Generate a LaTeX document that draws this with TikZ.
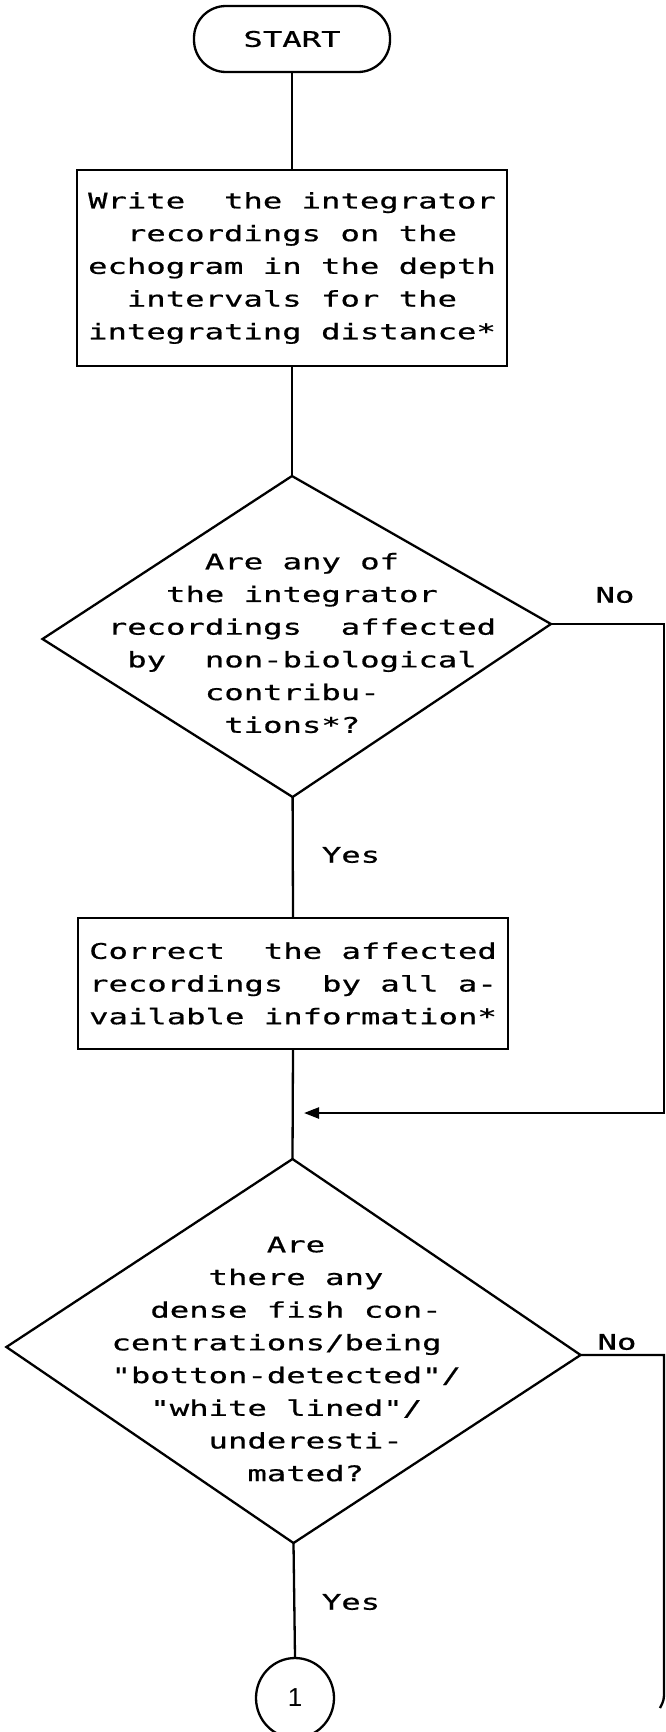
\documentclass[tikz,border=0pt]{standalone}
\usepackage{fontspec}
\newfontfamily\plotfont[FakeStretch=1.5,FakeBold=0.6,Ligatures=TeXOff]{DejaVu Sans Mono}
\newfontfamily\numfont{Liberation Sans}
\usetikzlibrary{arrows.meta,shapes.geometric}
\begin{document}
\begin{tikzpicture}[x=1pt,y=-1pt,
  txt/.style={font=\plotfont\fontsize{21.5}{32.7}\selectfont, align=center, inner sep=0pt},
  ln/.style={line width=2.3pt, line join=miter},
  termbox/.style={txt, draw, line width=2.3pt, rounded corners=32pt, minimum width=196pt, minimum height=66pt},
  procbox/.style={txt, draw, line width=2.3pt, minimum width=430pt},
  lbl/.style={txt},
  conn/.style={draw, line width=2.3pt, ellipse, minimum width=78pt, minimum height=80pt, inner sep=0pt, font=\numfont\fontsize{26}{28}\selectfont}
]
\useasboundingbox[fill=white] (0,0) rectangle (666,1732);

% START
\node[termbox] (start) at (292,39) {START};

% process box 1
\node[procbox, minimum height=196pt] (box1) at (292,268)
  {Write~ the integrator\\recordings on the\\echogram in the depth\\intervals for the\\integrating distance*};

% decision 1
\coordinate (d1t) at (292,476);
\coordinate (d1l) at (42.5,639);
\coordinate (d1r) at (551,624);
\coordinate (d1b) at (292.6,797);
\draw[ln] (d1t) -- (d1r) -- (d1b) -- (d1l) -- cycle;
\node[txt] (d1) at (302,643)
  {Are any of\\the integrator\\recordings~ affected\\by~ non-biological\\contribu-\hphantom{x}\\tions*?\hphantom{x}};

% process box 2
\node[procbox, minimum height=131pt] (box2) at (293,983.5)
  {Correct~ the affected\\recordings~ by all a-\\vailable information*};

% decision 2
\coordinate (d2t) at (292.5,1159);
\coordinate (d2l) at (6.4,1347);
\coordinate (d2r) at (580.6,1355);
\coordinate (d2b) at (293.5,1543);
\draw[ln] (d2t) -- (d2r) -- (d2b) -- (d2l) -- cycle;
\node[txt] (d2) at (296,1359)
  {Are\\there any\\dense fish con-\\centrations/being\hphantom{xx}\\"botton-detected"/\hphantom{x}\\"white lined"/\hphantom{x}\\\hphantom{x}underesti-\\\hphantom{x}mated?};

% connector circle
\node[conn] (c1) at (295,1698) {1};

% main flow lines
\draw[ln] (start.south) -- (box1.north);
\draw[ln] (box1.south) -- (d1t);
\draw[ln] (d1b) -- (box2.north);
\draw[ln] (box2.south) -- (d2t);
\draw[ln] (d2b) -- (c1.north);

% labels
\node[lbl] (no1) at (615,595) {No};
\node[lbl] (yes1) at (351,855) {Yes};
\node[lbl] (no2) at (617,1342) {No};
\node[lbl] (yes2) at (351,1602) {Yes};

% "No" branch of decision 1 back into main line
\coordinate (r1) at (664,624);
\coordinate (r2) at (664,1113);
\coordinate (tip) at (304,1113);
\draw[ln, -{Triangle[length=15pt,width=11pt]}] (d1r) -- (r1) -- (r2) -- (tip);

% "No" branch of decision 2 continues down
\coordinate (r3) at (664,1355);
\coordinate (r4) at (664,1690);
\coordinate (r5) at (660,1708);
\draw[ln] (d2r) -- (r3) -- (r4) .. controls (664,1700) .. (r5);
\end{tikzpicture}
\end{document}
